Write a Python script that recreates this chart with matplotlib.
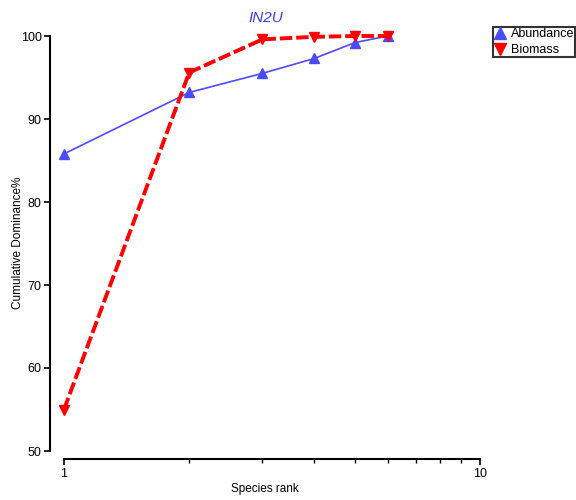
import matplotlib
matplotlib.use("Agg")
import matplotlib.pyplot as plt
from matplotlib.ticker import FixedLocator, NullFormatter, LogLocator

plt.rcParams['font.family'] = ['Liberation Sans', 'DejaVu Sans']

ranks = [1, 2, 3, 4, 5, 6]
abundance = [85.8, 93.2, 95.5, 97.3, 99.2, 100.0]
biomass = [55.0, 95.6, 99.6, 99.9, 100.0, 100.0]
title = "IN2U"
xlabel = "Species rank"
ylabel = "Cumulative Dominance%"

W, H = 576, 500
fig = plt.figure(figsize=(5.76, 5.0), dpi=100)
ax = fig.add_axes([64/W, 1-451/H, (480-64)/W, (451-36)/H])

ax.plot(ranks, abundance, color='#4b4bff', lw=1.2, marker='^', ms=7,
        label='Abundance', clip_on=False)
ax.plot(ranks, biomass, color='#ff0000', lw=2.8, ls=(0, (3.2, 1.0)), marker='v', ms=7,
        label='Biomass', clip_on=False)

ax.set_xscale('log')
ax.set_xlim(1, 10)
ax.set_ylim(50, 100)
ax.set_yticks([50, 60, 70, 80, 90, 100])
ax.xaxis.set_major_locator(FixedLocator([1, 10]))
ax.set_xticklabels(['1', '10'])
ax.xaxis.set_minor_locator(LogLocator(base=10, subs=range(2, 10)))
ax.xaxis.set_minor_formatter(NullFormatter())

for s in ['top', 'right']:
    ax.spines[s].set_visible(False)
ax.spines['left'].set_position(('outward', 10))
ax.spines['bottom'].set_position(('outward', 6))
ax.spines['left'].set_linewidth(1.5)
ax.spines['bottom'].set_linewidth(1.5)
ax.tick_params(axis='both', which='major', direction='out', length=4, width=1.2,
               labelsize=9, pad=2)
ax.tick_params(axis='x', which='minor', direction='out', length=3, width=1)

fig.text(265/W, 1-489/H, xlabel, fontsize=8.5, ha='center', va='center')
fig.text(18/W, 1-243/H, ylabel, fontsize=8.5, ha='center', va='center', rotation=90)
fig.text(266/W, 1-18/H, title, fontsize=11, style='italic', color='#3b3bff',
         ha='center', va='center')

leg = ax.legend(loc='upper left', bbox_to_anchor=(493/W, 1-27/H),
                bbox_transform=fig.transFigure, fontsize=9,
                frameon=True, fancybox=False, edgecolor='black', handlelength=0.9,
                handletextpad=0.4, borderpad=0.1, labelspacing=0.3, borderaxespad=0,
                markerscale=1.2)
leg.get_frame().set_linewidth(1.5)
for h in leg.legend_handles:
    h.set_linestyle('None')

fig.savefig('out.png', dpi=100)
